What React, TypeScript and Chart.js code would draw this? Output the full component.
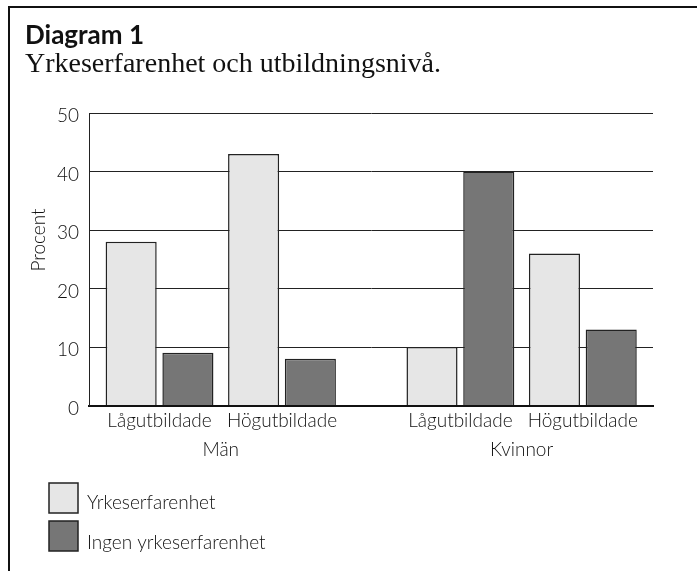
import React, { useEffect, useRef } from "react";
import { Chart, registerables } from "chart.js";

Chart.register(...registerables);

const groups = ["Män", "Kvinnor"];
const categories = ["Lågutbildade", "Högutbildade"];
const seriesNames = ["Yrkeserfarenhet", "Ingen yrkeserfarenhet"];
const yrkeserfarenhet = [28, 43, 10, 26];
const ingenYrkeserfarenhet = [9, 8, 40, 13];
const yTicks = [0, 10, 20, 30, 40, 50];

const GROUP_GAP = 0.457;
const FONT = "Lato";
const TEXT = "#111";
const FS = 19;

const positions: number[] = [];
const tickLabels: string[] = [];
groups.forEach((g, gi) => {
  categories.forEach((c, ci) => {
    positions.push(gi * (categories.length + GROUP_GAP) + ci);
    tickLabels.push(c);
  });
});
const groupCenters = groups.map(
  (_, gi) => gi * (categories.length + GROUP_GAP) + (categories.length - 1) / 2
);

const X_MIN = -0.576;
const X_MAX = 4.03;

const decorPlugin = {
  id: "decor",
  afterDraw(chart: any) {
    const ctx = chart.ctx;
    ctx.save();
    // frame
    ctx.strokeStyle = "#111";
    ctx.lineWidth = 2;
    ctx.beginPath();
    ctx.moveTo(9, 571);
    ctx.lineTo(9, 7);
    ctx.lineTo(697, 7);
    ctx.stroke();
    // titles
    ctx.fillStyle = "#111";
    ctx.textAlign = "left";
    ctx.textBaseline = "alphabetic";
    ctx.font = `bold 26px ${FONT}`;
    ctx.fillText("Diagram 1", 25, 44);
    ctx.font = `28px "Liberation Serif"`;
    ctx.fillText("Yrkeserfarenhet och utbildningsnivå.", 25, 72);
    // y title
    ctx.fillStyle = TEXT;
    ctx.font = `300 ${FS}px ${FONT}`;
    ctx.save();
    ctx.translate(39, 240);
    ctx.rotate(-Math.PI / 2);
    ctx.textAlign = "center";
    ctx.textBaseline = "middle";
    ctx.fillText("Procent", 0, 0);
    ctx.restore();
    // legend
    chart.data.datasets.forEach((ds: any, i: number) => {
      const top = 483 + i * 38;
      ctx.fillStyle = ds.backgroundColor;
      ctx.fillRect(49, top, 29, 30);
      ctx.strokeStyle = ds.borderColor;
      ctx.lineWidth = 1.5;
      ctx.strokeRect(49, top, 29, 30);
      ctx.fillStyle = TEXT;
      ctx.textAlign = "left";
      ctx.textBaseline = "middle";
      ctx.font = `300 ${FS}px ${FONT}`;
      ctx.fillText(ds.label, 87, top + 20 + i * 2);
    });
    ctx.restore();
  },
};

export default function App() {
  const canvasRef = useRef<HTMLCanvasElement | null>(null);

  useEffect(() => {
    document.body.style.margin = "0";
    const canvas = canvasRef.current;
    if (!canvas) return;
    const chart = new Chart(canvas, {
      type: "bar",
      data: {
        datasets: [
          {
            label: seriesNames[0],
            data: yrkeserfarenhet.map((v, i) => ({ x: positions[i], y: v })),
            backgroundColor: "#e6e6e6",
            borderColor: "#222",
            borderWidth: 1.5,
          },
          {
            label: seriesNames[1],
            data: ingenYrkeserfarenhet.map((v, i) => ({ x: positions[i], y: v })),
            backgroundColor: "#767676",
            borderColor: "#222",
            borderWidth: 1.5,
          },
        ],
      },
      options: {
        animation: false,
        responsive: true,
        maintainAspectRatio: false,
        barPercentage: 0.9,
        categoryPercentage: 0.927,
        layout: { padding: { left: 0, right: 44, top: 113, bottom: 105.5 } },
        plugins: {
          legend: { display: false },
          tooltip: { enabled: false },
          title: { display: false },
        },
        scales: {
          x: {
            type: "linear",
            position: "bottom",
            weight: 0,
            min: X_MIN,
            max: X_MAX,
            offset: false,
            grid: { display: false, drawTicks: false },
            border: { display: true, color: "#111", width: 2 },
            afterBuildTicks: (scale: any) => {
              scale.ticks = positions.map((p) => ({ value: p }));
            },
            afterFit: (scale: any) => {
              scale.height = 32;
            },
            ticks: {
              autoSkip: false,
              maxRotation: 0,
              padding: 4,
              color: TEXT,
              font: { family: FONT, size: FS, weight: "300" },
              callback: (_v: any, i: number) => tickLabels[i],
            },
          },
          x2: {
            type: "linear",
            position: "bottom",
            weight: 1,
            min: X_MIN,
            max: X_MAX,
            offset: false,
            grid: { display: false, drawTicks: false },
            border: { display: false },
            afterBuildTicks: (scale: any) => {
              scale.ticks = groupCenters.map((p) => ({ value: p }));
            },
            afterFit: (scale: any) => {
              scale.height = 28;
            },
            ticks: {
              autoSkip: false,
              maxRotation: 0,
              padding: 1,
              color: TEXT,
              font: { family: FONT, size: FS, weight: "300" },
              callback: (_v: any, i: number) => groups[i],
            },
          },
          y: {
            min: 0,
            max: 50,
            afterBuildTicks: (scale: any) => {
              scale.ticks = yTicks.map((v) => ({ value: v }));
            },
            afterFit: (scale: any) => {
              scale.width = 89;
            },
            grid: { color: "#222", lineWidth: 1, drawTicks: false },
            border: { display: true, color: "#222", width: 1 },
            ticks: {
              padding: 10,
              labelOffset: 3,
              color: TEXT,
              font: { family: FONT, size: FS, weight: "300" },
            },
          },
        },
      },
      plugins: [decorPlugin],
    } as any);
    return () => chart.destroy();
  }, []);

  return (
    <div style={{ position: "relative", width: 697, height: 571 }}>
      <canvas ref={canvasRef} />
    </div>
  );
}
